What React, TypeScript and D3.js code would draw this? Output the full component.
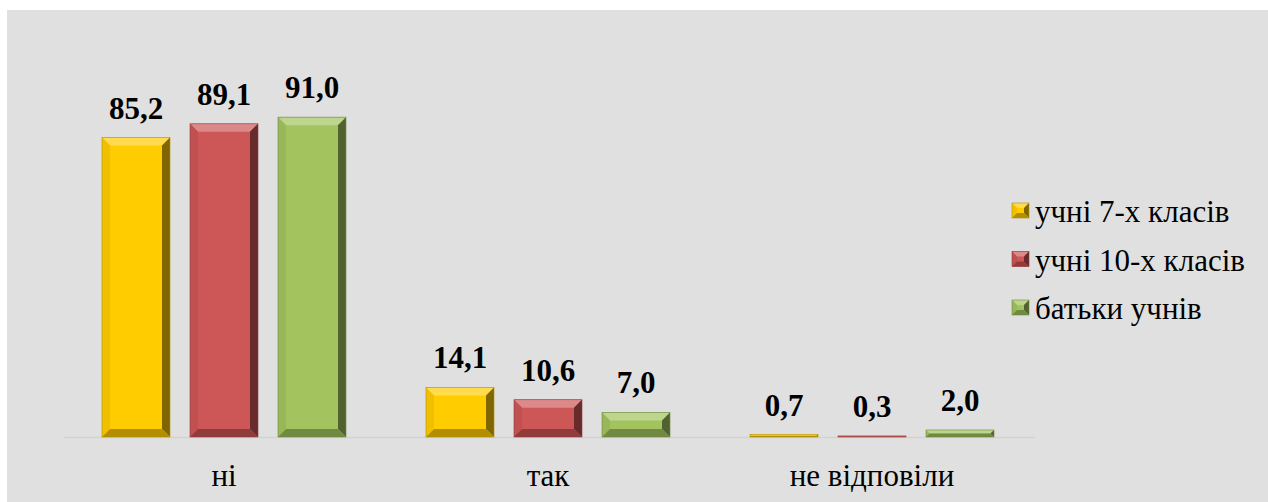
import React from "react";
import * as d3 from "d3";

const categories = ["ні", "так", "не відповіли"];
const seriesNames = ["учні 7-х класів", "учні 10-х класів", "батьки учнів"];
const seriesColors = ["#FFCC00", "#CD5656", "#A2C35E"];
const values7 = [85.2, 14.1, 0.7];
const values10 = [89.1, 10.6, 0.3];
const valuesParents = [91.0, 7.0, 2.0];
const seriesValues = [values7, values10, valuesParents];

const W = 1268;
const H = 502;
const FONT = '"Liberation Serif", "Times New Roman", Tinos, serif';

function fmt(v: number) {
  return v.toFixed(1).replace(".", ",");
}

function BevelRect({ x, y, w, h, color, bevel = 8 }: { x: number; y: number; w: number; h: number; color: string; bevel?: number }) {
  const b = Math.max(0, Math.min(bevel, h / 2, w / 2));
  const top = d3.interpolateRgb(color, "#ffffff")(0.3);
  const left = d3.interpolateRgb(color, "#000000")(0.06);
  const right = d3.interpolateRgb(color, "#000000")(0.5);
  const bottom = d3.interpolateRgb(color, "#000000")(0.3);
  const p = (pts: number[][]) => pts.map((q) => q.join(",")).join(" ");
  return (
    <g>
      <rect x={x} y={y} width={w} height={h} fill={color} />
      {b > 1 && (
        <>
          <polygon points={p([[x, y], [x + w, y], [x + w - b, y + b], [x + b, y + b]])} fill={top} />
          <polygon points={p([[x, y], [x + b, y + b], [x + b, y + h - b], [x, y + h]])} fill={left} />
          <polygon points={p([[x + w, y], [x + w, y + h], [x + w - b, y + h - b], [x + w - b, y + b]])} fill={right} />
          <polygon points={p([[x, y + h], [x + w, y + h], [x + w - b, y + h - b], [x + b, y + h - b]])} fill={bottom} />
        </>
      )}
      <rect x={x} y={y} width={w} height={h} fill="none" stroke={d3.interpolateRgb(color, "#000")(0.3)} strokeWidth={0.6} />
    </g>
  );
}

export default function App() {
  const svgRef = React.useRef<SVGSVGElement | null>(null);

  React.useLayoutEffect(() => {
    if (!svgRef.current) return;
    d3.select(svgRef.current)
      .selectAll<SVGTextElement, unknown>("text")
      .each(function () {
        this.style.setProperty("font-family", FONT, "important");
      });
  });

  const x0 = d3.scaleBand<string>().domain(categories).range([62, 1034]).paddingInner(0).paddingOuter(0);
  const groupW = 244;
  const x1 = d3.scaleBand<number>().domain([0, 1, 2]).range([0, groupW]).paddingInner(20 / 88).paddingOuter(0);
  const y = d3.scaleLinear().domain([0, 100]).range([437, 85.5]);

  return (
    <div>
      <style>{`svg.chart text { font-family: "Liberation Serif", "Times New Roman", Tinos, serif !important; }`}</style>
      <svg
        ref={svgRef}
        className="chart"
        width={W}
        height={H}
        fontFamily="Liberation Serif"
        style={{ position: "absolute", left: 0, top: 0, fontFamily: "Liberation Serif" }}
      >
        <rect x={0} y={0} width={W} height={H} fill="#ffffff" />
        <rect x={7} y={10} width={W - 7} height={H - 10} fill="#E0E0E0" />
        <line x1={64} x2={1035} y1={437.5} y2={437.5} stroke="#D2D2D2" strokeWidth={1.5} />
        {categories.map((cat, ci) => {
          const gx = x0(cat)! + (x0.bandwidth() - groupW) / 2;
          return (
            <g key={cat}>
              {seriesValues.map((vals, si) => {
                const v = vals[ci];
                const bx = gx + x1(si)!;
                const by = y(v);
                const bh = y(0) - by;
                return (
                  <g key={si}>
                    <BevelRect x={bx} y={by} w={x1.bandwidth()} h={bh} color={seriesColors[si]} />
                    <text
                      x={bx + x1.bandwidth() / 2}
                      y={by - 19}
                      textAnchor="middle"
                      fontSize={31}
                      fontWeight="bold"
                      fontFamily="Liberation Serif"
                      style={{ fontFamily: "Liberation Serif" }}
                    >
                      {fmt(v)}
                    </text>
                  </g>
                );
              })}
              <text
                x={x0(cat)! + x0.bandwidth() / 2}
                y={486}
                textAnchor="middle"
                fontSize={31}
                fontFamily="Liberation Serif"
                style={{ fontFamily: "Liberation Serif" }}
              >
                {cat}
              </text>
            </g>
          );
        })}
        {seriesNames.map((name, i) => {
          const ly = 203 + i * 48.5;
          return (
            <g key={name}>
              <BevelRect x={1012} y={ly} w={17} h={15} color={seriesColors[i]} bevel={5} />
              <text
                x={1035}
                y={ly + 19}
                fontSize={31}
                fontFamily="Liberation Serif"
                style={{ fontFamily: "Liberation Serif" }}
              >
                {name}
              </text>
            </g>
          );
        })}
      </svg>
    </div>
  );
}
